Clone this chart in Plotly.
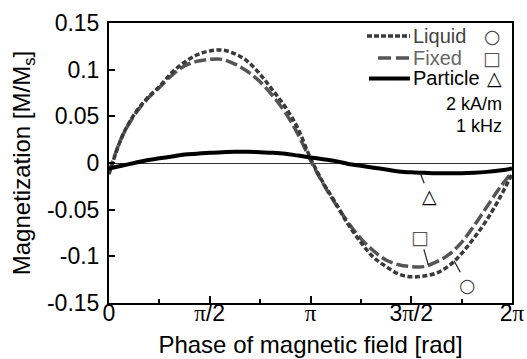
import numpy as np
import plotly.graph_objects as go

PI = np.pi
# phase samples, k*pi/16
phase = [k * PI / 16 for k in range(33)]

liquid = [-0.012, 0.027, 0.052, 0.069, 0.082, 0.097, 0.108, 0.116, 0.120, 0.121, 0.117,
          0.109, 0.095, 0.078, 0.060, 0.037, 0.005, -0.021, -0.043, -0.066, -0.085,
          -0.101, -0.111, -0.119, -0.122, -0.121, -0.118, -0.110, -0.097, -0.080,
          -0.061, -0.038, -0.012]
fixed = [-0.010, 0.027, 0.051, 0.068, 0.081, 0.094, 0.104, 0.109, 0.111, 0.111, 0.106,
         0.098, 0.087, 0.072, 0.054, 0.031, 0.003, -0.022, -0.044, -0.064, -0.081,
         -0.094, -0.104, -0.109, -0.111, -0.111, -0.106, -0.098, -0.085, -0.067,
         -0.047, -0.027, -0.010]
particle = [-0.006, -0.003, 0.000, 0.003, 0.005, 0.007, 0.009, 0.010, 0.011, 0.0115,
            0.012, 0.012, 0.0115, 0.011, 0.010, 0.008, 0.006, 0.004, 0.002, -0.001,
            -0.003, -0.005, -0.007, -0.009, -0.010, -0.0105, -0.011, -0.011, -0.011,
            -0.0105, -0.0095, -0.008, -0.006]

x_tickvals = [0, PI / 2, PI, 3 * PI / 2, 2 * PI]
PISPAN = '<span style="font-family:Liberation Serif">π</span>'
x_ticktext = ["0", PISPAN + "/2", PISPAN, "3" + PISPAN + "/2", "2" + PISPAN]
x_minor = [PI / 4, 3 * PI / 4, 5 * PI / 4, 7 * PI / 4]
y_tickvals = [0.15, 0.1, 0.05, 0, -0.05, -0.1, -0.15]
y_ticktext = ["0.15", "0.1", "0.05", "0", "-0.05", "-0.1", "-0.15"]

FONT = "Liberation Sans, Arial, sans-serif"
SYMFONT = "DejaVu Sans"
C_LIQ = "#3a3a3a"
C_FIX = "#555555"
C_PAR = "#000000"

fig = go.Figure()
fig.add_trace(go.Scatter(x=phase, y=fixed, mode="lines", name="Fixed",
                         line=dict(color=C_FIX, width=3.5, dash="12px,4px", shape="spline")))
fig.add_trace(go.Scatter(x=phase, y=liquid, mode="lines", name="Liquid",
                         line=dict(color=C_LIQ, width=3.5, dash="5px,2.5px", shape="spline")))
fig.add_trace(go.Scatter(x=phase, y=particle, mode="lines", name="Particle",
                         line=dict(color=C_PAR, width=4, shape="spline")))

# legend (manual)
def px2paper(px, py):
    return (px - 109) / 403.0, (303 - py) / 280.0

shapes = []
anns = []
leg = [("Liquid", C_LIQ, "#444444", "5px,2px", 3.5, 367, 36, "○", 492, "#444444"),
       ("Fixed", C_FIX, "#666666", "13px,5px", 3.5, 378, 58, "□", 492, "#555555"),
       ("Particle", C_PAR, "#000000", "solid", 4, 369, 78.5, "△", 494, "#000000")]
for name, lc, tc, dash, w, x0, yy, sym, sx, sc in leg:
    a0, b0 = px2paper(x0, yy)
    a1, _ = px2paper(410, yy)
    shapes.append(dict(type="line", xref="paper", yref="paper", x0=a0, x1=a1, y0=b0, y1=b0,
                       line=dict(color=lc, width=w, dash=dash)))
    tx, ty = px2paper(411, yy)
    anns.append(dict(xref="paper", yref="paper", x=tx, y=ty, xanchor="left", yanchor="middle",
                     text=name, showarrow=False, font=dict(family=FONT, size=20, color=tc)))
    sxp, syp = px2paper(sx, yy)
    anns.append(dict(xref="paper", yref="paper", x=sxp, y=syp, xanchor="center", yanchor="middle",
                     text="<b>" + sym + "</b>", showarrow=False,
                     font=dict(family=SYMFONT, size=19, color=sc)))

for txt, yy in [("2 kA/m", 104.5), ("1 kHz", 125.5)]:
    tx, ty = px2paper(504, yy)
    anns.append(dict(xref="paper", yref="paper", x=tx, y=ty, xanchor="right", yanchor="middle",
                     text=txt, showarrow=False, font=dict(family=FONT, size=18, color="black")))

# pointer symbols on curves
for sym, series, xt, ax, ay, col in [("○", liquid, 5.38, 13, 24, "#444444"),
                                      ("□", fixed, 4.978, -8, -28, "#555555"),
                                      ("△", particle, 4.85, 9, 23, "#000000")]:
    yt = float(np.interp(xt, phase, series))
    anns.append(dict(x=xt, y=yt, xref="x", yref="y", text="<b>" + sym + "</b>", showarrow=True,
                     arrowhead=0, arrowwidth=1.2, arrowcolor="#222222", ax=ax, ay=ay, standoff=0,
                     font=dict(family=SYMFONT, size=19, color=col)))

fig.update_layout(
    width=527, height=359, autosize=False,
    margin=dict(l=109, r=15, t=23, b=56, pad=0),
    paper_bgcolor="white", plot_bgcolor="white",
    showlegend=False,
    font=dict(family=FONT, color="black"),
    shapes=shapes, annotations=anns,
    xaxis=dict(range=[0, 2 * PI], showgrid=False, zeroline=False, automargin=False,
               showline=True, linecolor="black", linewidth=2, mirror=True,
               ticks="inside", ticklen=7, tickwidth=2, tickcolor="black",
               tickvals=x_tickvals, ticktext=x_ticktext, ticklabelstandoff=-12,
               minor=dict(tickvals=x_minor, ticks="inside", ticklen=4, tickwidth=2, tickcolor="black"),
               tickfont=dict(family=FONT, size=23, color="black"),
               title=dict(text="Phase of magnetic field [rad]", standoff=12,
                          font=dict(family=FONT, size=24, color="black"))),
    yaxis=dict(range=[-0.15, 0.15], showgrid=False, automargin=False,
               zeroline=True, zerolinecolor="#333333", zerolinewidth=1,
               showline=True, linecolor="black", linewidth=2, mirror=True,
               ticks="inside", ticklen=6, tickwidth=2, tickcolor="black",
               tickvals=y_tickvals, ticktext=y_ticktext, ticklabelstandoff=3,
               tickfont=dict(family=FONT, size=23, color="black"),
               title=dict(text="Magnetization [M/M<sub>s</sub>]", standoff=10,
                          font=dict(family=FONT, size=24, color="black"))),
)

fig.write_html("out.html", config={"displayModeBar": False},
               post_script="document.body.style.margin='0';document.body.style.overflow='hidden';")
